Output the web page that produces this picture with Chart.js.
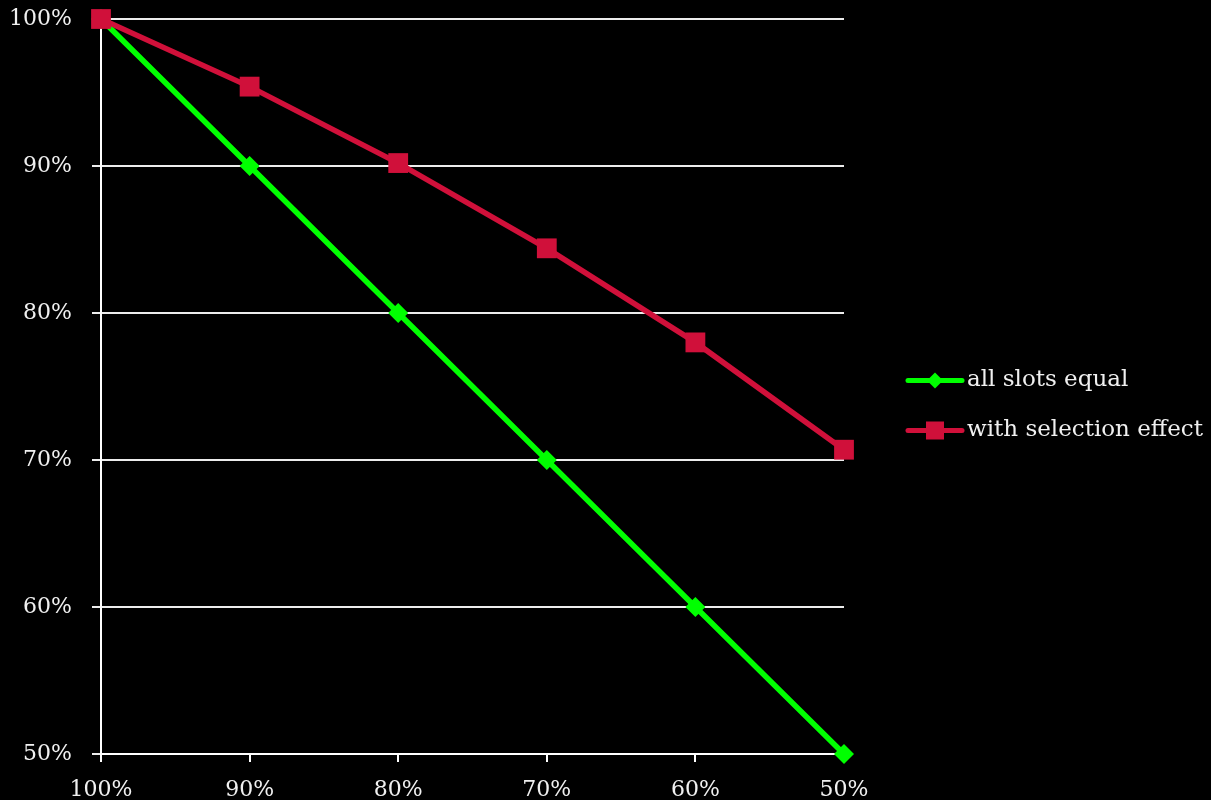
<!DOCTYPE html>
<html>
<head>
<meta charset="utf-8">
<title>Slot utilisation</title>
<script src="https://cdn.jsdelivr.net/npm/chart.js@4/dist/chart.umd.min.js"></script>
<style>
  html, body { margin: 0; padding: 0; background: #000; }
  #wrap { width: 1211px; height: 800px; }
</style>
</head>
<body>
<div id="wrap"><canvas id="c" width="1211" height="800"></canvas></div>
<script>
// Categories along the x axis (share of slots kept)
const categories = ['100%', '90%', '80%', '70%', '60%', '50%'];
// Series values, in percent
const allSlotsEqual = [100, 90, 80, 70, 60, 50];
const withSelectionEffect = [100, 95.4, 90.2, 84.4, 78.0, 70.7];
// Y axis tick values
const yTicks = [50, 60, 70, 80, 90, 100];

const FONT = 'DejaVu Serif';
const TEXT = '#f0f0f0';
const GREEN = '#00ff00';
const RED = '#d0103a';

const seriesNames = ['all slots equal', 'with selection effect'];

// Legend drawn beside the plot: a short line with the series marker, then the name
const sideLegend = {
  id: 'sideLegend',
  afterDraw(chart) {
    const ctx = chart.ctx;
    const area = chart.chartArea;
    const x0 = area.right + 64;
    const x1 = area.right + 118;
    const mid = (x0 + x1) / 2;
    const yc = (area.top + area.bottom) / 2;
    const rows = [yc - 6, yc + 44];
    chart.data.datasets.forEach((ds, i) => {
      const y = rows[i];
      ctx.save();
      ctx.strokeStyle = ds.borderColor;
      ctx.lineWidth = 5;
      ctx.lineCap = 'round';
      ctx.beginPath();
      ctx.moveTo(x0, y);
      ctx.lineTo(x1, y);
      ctx.stroke();
      ctx.fillStyle = ds.pointBackgroundColor;
      if (ds.pointStyle === 'rect') {
        ctx.fillRect(mid - 9, y - 9, 18, 18);
      } else {
        ctx.beginPath();
        ctx.moveTo(mid, y - 8);
        ctx.lineTo(mid + 8, y);
        ctx.lineTo(mid, y + 8);
        ctx.lineTo(mid - 8, y);
        ctx.closePath();
        ctx.fill();
      }
      ctx.fillStyle = TEXT;
      ctx.font = '23px "' + FONT + '"';
      ctx.textAlign = 'left';
      ctx.textBaseline = 'middle';
      ctx.fillText(ds.label, x1 + 5, y);
      ctx.restore();
    });
  }
};

new Chart(document.getElementById('c'), {
  type: 'line',
  data: {
    labels: categories,
    datasets: [
      {
        label: seriesNames[0],
        data: allSlotsEqual,
        borderColor: GREEN,
        backgroundColor: GREEN,
        pointBackgroundColor: GREEN,
        pointBorderColor: GREEN,
        borderWidth: 5.5,
        pointStyle: 'rectRot',
        pointRadius: 10,
        pointBorderWidth: 0,
        tension: 0,
        clip: false,
        order: 2
      },
      {
        label: seriesNames[1],
        data: withSelectionEffect,
        borderColor: RED,
        backgroundColor: RED,
        pointBackgroundColor: RED,
        pointBorderColor: RED,
        borderWidth: 5.5,
        pointStyle: 'rect',
        pointRadius: 14,
        pointBorderWidth: 0,
        tension: 0,
        clip: false,
        order: 1
      }
    ]
  },
  options: {
    responsive: false,
    animation: false,
    devicePixelRatio: 1,
    layout: { padding: { top: 19, right: 367, left: 0, bottom: 0 } },
    plugins: {
      legend: { display: false },
      tooltip: { enabled: false }
    },
    scales: {
      x: {
        type: 'category',
        offset: false,
        afterFit(scale) {
          scale.height = 46;
          scale.paddingLeft = 0;
          scale.paddingRight = 0;
        },
        grid: {
          drawOnChartArea: false,
          drawTicks: true,
          tickLength: 8,
          color: '#ffffff',
          lineWidth: 2
        },
        border: { display: true, color: '#ffffff', width: 2 },
        ticks: {
          color: TEXT,
          font: { family: FONT, size: 22 },
          padding: 15,
          maxRotation: 0,
          autoSkip: false
        }
      },
      y: {
        min: 50,
        max: 100,
        afterFit(scale) {
          scale.width = 101;
          scale.paddingTop = 0;
          scale.paddingBottom = 0;
        },
        afterBuildTicks(scale) { scale.ticks = yTicks.map(v => ({ value: v })); },
        grid: {
          color: '#ececec',
          lineWidth: 2,
          tickLength: 9,
          drawTicks: true
        },
        border: { display: true, color: '#ffffff', width: 2 },
        ticks: {
          color: TEXT,
          font: { family: FONT, size: 22 },
          padding: 20,
          callback: v => v + '%'
        }
      }
    }
  },
  plugins: [sideLegend]
});
</script>
</body>
</html>
